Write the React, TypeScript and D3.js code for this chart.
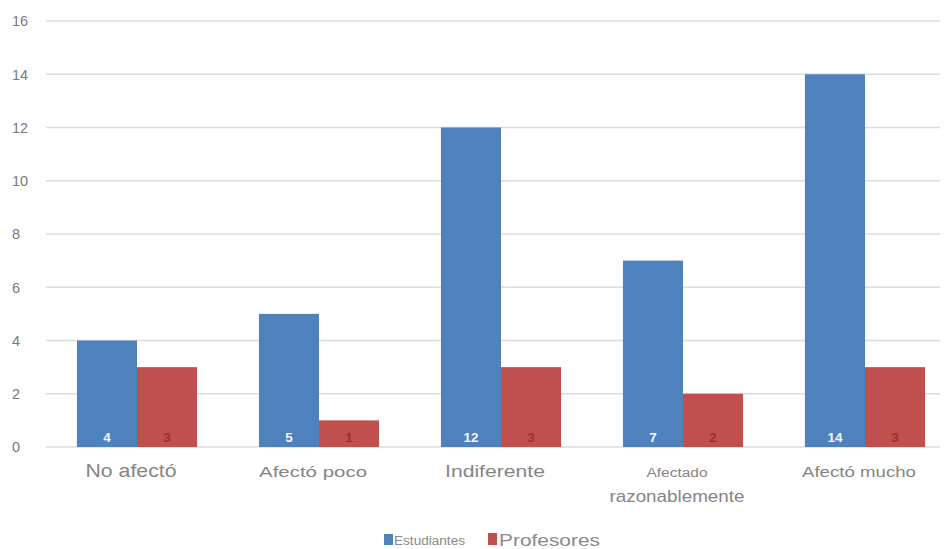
import React from "react";
import * as d3 from "d3";

const categories = ["No afectó", "Afectó poco", "Indiferente", "Afectado razonablemente", "Afectó mucho"];
const estudiantes = [4, 5, 12, 7, 14];
const profesores = [3, 1, 3, 2, 3];
const seriesNames = ["Estudiantes", "Profesores"];
const yTicks = [0, 2, 4, 6, 8, 10, 12, 14, 16];

// label line layout per category
const labelLines: { text: string; size: number; width: number }[][] = [
  [{ text: "No afectó", size: 18, width: 91 }],
  [{ text: "Afectó poco", size: 15, width: 108 }],
  [{ text: "Indiferente", size: 16, width: 100 }],
  [
    { text: "Afectado", size: 12, width: 61 },
    { text: "razonablemente", size: 17, width: 135 },
  ],
  [{ text: "Afectó mucho", size: 14, width: 114 }],
];

const COLORS = ["#4f81bd", "#c0504d"];
const LABEL_COLORS = ["#f4f8ff", "#9e2f2c"];

export default function App() {
  const W = 944;
  const H = 549;
  const x = d3.scaleBand<string>().domain(categories).range([46, 956]).paddingInner(0.34).paddingOuter(0.17);
  const inner = d3.scaleBand<string>().domain(seriesNames).range([0, x.bandwidth()]);
  const y = d3.scaleLinear().domain([0, 16]).range([447, 21]);
  const series = [estudiantes, profesores];
  const font = "'Liberation Sans', Arial, sans-serif";

  return (
    <svg width={W} height={H} style={{ position: "absolute", left: 0, top: 0, background: "#fff" }}>
      <rect x={0} y={0} width={W} height={H} fill="#fff" />
      {yTicks.map((t) => (
        <g key={t}>
          <line x1={46} x2={940} y1={y(t)} y2={y(t)} stroke="#dcdcdc" strokeWidth={1.3} />
          <text x={12} y={y(t) + 5.3} fontSize={14.5} fill="#7a7a7a" fontFamily={font}>
            {t}
          </text>
        </g>
      ))}
      {categories.map((c, i) => (
        <g key={c}>
          {series.map((s, j) => {
            const bx = (x(c) ?? 0) + (inner(seriesNames[j]) ?? 0);
            const bw = inner.bandwidth();
            return (
              <g key={j}>
                <rect x={bx} y={y(s[i])} width={bw} height={y(0) - y(s[i])} fill={COLORS[j]} />
                <text
                  x={bx + bw / 2}
                  y={442}
                  textAnchor="middle"
                  fontSize={13.5}
                  fontWeight="bold"
                  fill={LABEL_COLORS[j]}
                  fontFamily={font}
                >
                  {s[i]}
                </text>
              </g>
            );
          })}
          {labelLines[i].map((l, k) => (
            <text
              key={k}
              x={(x(c) ?? 0) + x.bandwidth() / 2 - 6}
              y={477 + k * 25}
              textAnchor="middle"
              fontSize={l.size}
              fill="#858585"
              fontFamily={font}
              textLength={l.width}
              lengthAdjust="spacingAndGlyphs"
            >
              {l.text}
            </text>
          ))}
        </g>
      ))}
      {/* legend */}
      <rect x={384} y={534} width={9} height={11} fill={COLORS[0]} />
      <text x={394} y={545} fontSize={12} fill="#8a8a8a" fontFamily={font} textLength={71} lengthAdjust="spacingAndGlyphs">
        {seriesNames[0]}
      </text>
      <rect x={488} y={533} width={9} height={12} fill={COLORS[1]} />
      <text x={499} y={546} fontSize={17} fill="#8a8a8a" fontFamily={font} textLength={101} lengthAdjust="spacingAndGlyphs">
        {seriesNames[1]}
      </text>
    </svg>
  );
}
